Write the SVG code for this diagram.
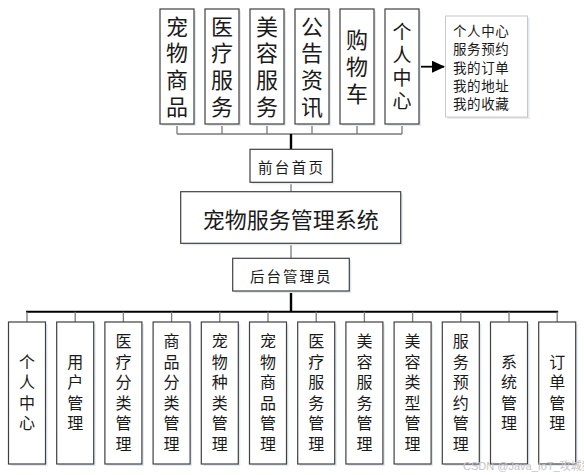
<svg xmlns="http://www.w3.org/2000/svg" width="584" height="475" viewBox="0 0 584 475">
<style>
  .box{fill:#ffffff;stroke:#404040;stroke-width:1.2}
  .sh{fill:#e4e9f1;stroke:none}
  .t{font-family:"Noto Sans CJK SC","Noto Sans",sans-serif;fill:#1a1a1a;text-anchor:middle;dominant-baseline:central}
  .tl{font-family:"Noto Sans CJK SC","Noto Sans",sans-serif;fill:#1a1a1a;dominant-baseline:central}
  .v{font-family:"Noto Sans CJK SC","Noto Sans",sans-serif;fill:#1a1a1a;text-anchor:middle;writing-mode:vertical-rl}
  .big{font-size:22px;letter-spacing:4.7px}
  .mid{font-size:19px;letter-spacing:4px}
  .sm{font-size:16px;letter-spacing:4.5px}
  .g{stroke:#7a7a7a;stroke-width:1.3;fill:none}
  .k{stroke:#000000;stroke-width:2.4;fill:none}
</style>
<defs>
  <marker id="arr" markerWidth="13" markerHeight="12" refX="12" refY="6" orient="auto" markerUnits="userSpaceOnUse">
    <path d="M0,0 L13,6 L0,12 Z" fill="#000"/>
  </marker>
</defs>
<rect width="584" height="475" fill="#ffffff"/>

<g id="connectors">
  <path class="g" d="M177,124V134M222,124V134M267,124V134M312,124V134M357,124V134M402,124V134M177,134H402"/>
  <path class="k" d="M291,134V149.5"/>
  <path d="M419,66.7H444" stroke="#000" stroke-width="1.8" marker-end="url(#arr)"/>
  <path class="g" d="M291,182.5V191.7M291,243.3V258.3"/>
  <path class="k" d="M291,291V311.7"/>
  <path d="M26,311.7H558.2" stroke="#000" stroke-width="2"/>
  <path class="g" d="M27,311.7V322M75.2,311.7V322M123.4,311.7V322M171.6,311.7V322M219.8,311.7V322M268,311.7V322M316.2,311.7V322M364.4,311.7V322M412.6,311.7V322M460.8,311.7V322M509,311.7V322M557.2,311.7V322"/>
</g>

<g id="top1"><rect class="sh" x="162" y="11" width="34" height="115"/><rect class="box" x="160" y="9" width="34" height="115"/>
  <text class="v big" x="177" y="68.85">宠物商品</text></g>
<g id="top2"><rect class="sh" x="207" y="11" width="34" height="115"/><rect class="box" x="205" y="9" width="34" height="115"/>
  <text class="v big" x="222" y="68.85">医疗服务</text></g>
<g id="top3"><rect class="sh" x="252" y="11" width="34" height="115"/><rect class="box" x="250" y="9" width="34" height="115"/>
  <text class="v big" x="267" y="68.85">美容服务</text></g>
<g id="top4"><rect class="sh" x="297" y="11" width="34" height="115"/><rect class="box" x="295" y="9" width="34" height="115"/>
  <text class="v big" x="312" y="68.85">公告资讯</text></g>
<g id="top5"><rect class="sh" x="342" y="11" width="34" height="115"/><rect class="box" x="340" y="9" width="34" height="115"/>
  <text class="v big" x="357" y="68.85">购物车</text></g>
<g id="top6"><rect class="sh" x="387" y="11" width="34" height="115"/><rect class="box" x="385" y="9" width="34" height="115"/>
  <text class="v mid" x="402" y="68.5">个人中心</text></g>

<g id="userinfo"><rect class="sh" x="447.5" y="18" width="82" height="101"/><rect x="445.5" y="16" width="82" height="101" fill="#fff" stroke="#c8c8c8" stroke-width="1"/>
  <text class="tl" font-size="13.5" letter-spacing="0.6" x="453" y="30">个人中心</text>
  <text class="tl" font-size="13.5" letter-spacing="0.6" x="453" y="48">服务预约</text>
  <text class="tl" font-size="13.5" letter-spacing="0.6" x="453" y="66.5">我的订单</text>
  <text class="tl" font-size="13.5" letter-spacing="0.6" x="453" y="84.5">我的地址</text>
  <text class="tl" font-size="13.5" letter-spacing="0.6" x="453" y="102.5">我的收藏</text></g>

<g id="front"><rect class="sh" x="252" y="151.3" width="82.3" height="33"/><rect class="box" x="250" y="149.3" width="82.3" height="33"/>
  <text class="tl" font-size="14.5" x="258" y="166" textLength="65" lengthAdjust="spacing">前台首页</text></g>
<g id="main"><rect class="sh" x="182.7" y="193.7" width="220" height="51.6"/><rect class="box" x="180.7" y="191.7" width="220" height="51.6"/>
  <text class="t" font-size="22" x="290.7" y="217.5">宠物服务管理系统</text></g>
<g id="admin"><rect class="sh" x="234.7" y="260.3" width="116.6" height="32.7"/><rect class="box" x="232.7" y="258.3" width="116.6" height="32.7"/>
  <text class="tl" font-size="14.5" x="250" y="275" textLength="80.5" lengthAdjust="spacing">后台管理员</text></g>

<g id="b1"><rect class="sh" x="10.5" y="324" width="37" height="142"/><rect class="box" x="8.5" y="322" width="37" height="142"/>
  <text class="v sm" x="27" y="394.75">个人中心</text></g>
<g id="b2"><rect class="sh" x="58.7" y="324" width="37" height="142"/><rect class="box" x="56.7" y="322" width="37" height="142"/>
  <text class="v sm" x="75.2" y="394.75">用户管理</text></g>
<g id="b3"><rect class="sh" x="106.9" y="324" width="37" height="142"/><rect class="box" x="104.9" y="322" width="37" height="142"/>
  <text class="v sm" x="123.4" y="394.75">医疗分类管理</text></g>
<g id="b4"><rect class="sh" x="155.1" y="324" width="37" height="142"/><rect class="box" x="153.1" y="322" width="37" height="142"/>
  <text class="v sm" x="171.6" y="394.75">商品分类管理</text></g>
<g id="b5"><rect class="sh" x="203.3" y="324" width="37" height="142"/><rect class="box" x="201.3" y="322" width="37" height="142"/>
  <text class="v sm" x="219.8" y="394.75">宠物种类管理</text></g>
<g id="b6"><rect class="sh" x="251.5" y="324" width="37" height="142"/><rect class="box" x="249.5" y="322" width="37" height="142"/>
  <text class="v sm" x="268" y="394.75">宠物商品管理</text></g>
<g id="b7"><rect class="sh" x="299.7" y="324" width="37" height="142"/><rect class="box" x="297.7" y="322" width="37" height="142"/>
  <text class="v sm" x="316.2" y="394.75">医疗服务管理</text></g>
<g id="b8"><rect class="sh" x="347.9" y="324" width="37" height="142"/><rect class="box" x="345.9" y="322" width="37" height="142"/>
  <text class="v sm" x="364.4" y="394.75">美容服务管理</text></g>
<g id="b9"><rect class="sh" x="396.1" y="324" width="37" height="142"/><rect class="box" x="394.1" y="322" width="37" height="142"/>
  <text class="v sm" x="412.6" y="394.75">美容类型管理</text></g>
<g id="b10"><rect class="sh" x="444.3" y="324" width="37" height="142"/><rect class="box" x="442.3" y="322" width="37" height="142"/>
  <text class="v sm" x="460.8" y="394.75">服务预约管理</text></g>
<g id="b11"><rect class="sh" x="492.5" y="324" width="37" height="142"/><rect class="box" x="490.5" y="322" width="37" height="142"/>
  <text class="v sm" x="509" y="394.75">系统管理</text></g>
<g id="b12"><rect class="sh" x="540.7" y="324" width="37" height="142"/><rect class="box" x="538.7" y="322" width="37" height="142"/>
  <text class="v sm" x="557.2" y="394.75">订单管理</text></g>

<text x="463" y="466" font-family="Liberation Sans,'Noto Sans CJK SC',sans-serif" font-size="11" fill="#c4c4c4" dominant-baseline="central">CSDN @Java_IoT_攻城狮</text>
</svg>
